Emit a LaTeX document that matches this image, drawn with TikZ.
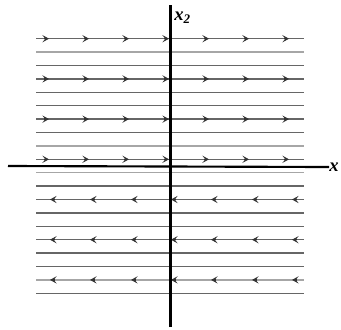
\documentclass[tikz,border=0pt]{standalone}
\usepackage{fontspec}
\setmainfont{Liberation Serif}
\usetikzlibrary{arrows.meta}
\definecolor{FGray}{HTML}{666666}
\definecolor{FLight}{HTML}{A6A6A6}

\begin{document}
\begin{tikzpicture}[x=0.75pt,y=-0.75pt,
  fl/.style={line width=1.1pt,color=FGray},
  flight/.style={line width=1.1pt,color=FLight},
  ax/.style={line width=1.6pt,color=black},
  tip/.style={-{Stealth[length=5pt,width=5.5pt,inset=2.2pt]},line width=1pt,color=black!80},
  lbl/.style={font=\fontsize{14}{14}\selectfont\bfseries\itshape,inner sep=0pt}
]
  \useasboundingbox (0,0) rectangle (341,329);
  % flow lines
  \foreach \y/\s in {38.7/fl,52.1/flight,65.5/fl,78.9/fl,92.3/fl,105.7/fl,
      119.1/fl,132.5/fl,145.9/flight,159.3/fl,172.7/flight,186.1/fl,199.5/fl,
      212.9/fl,226.3/fl,239.7/fl,253.1/fl,266.5/fl,279.9/flight,293.3/fl}
    \draw[\s] (36,\y) -- (304,\y);
  % direction marks
  \foreach \y in {38.7,78.9,119.1,159.3}
    \foreach \x in {49,89,129,169,209,249,289}
      \draw[tip] (\x-5,\y) -- (\x,\y);
  \foreach \y in {199.5,239.7,279.9}
    \foreach \x in {50,90,131,171,211,252,292}
      \draw[tip] (\x+5,\y) -- (\x,\y);
  % axes
  \node[lbl,anchor=west] (xone) at (329,167) {x};
  \node[lbl,anchor=west] (xtwo) at (174,18) {x\textsubscript{2}};
  \coordinate (west) at (8,166);
  \coordinate (south) at (170.5,327);
  \coordinate (north) at (170.5,5);
  \draw[ax] (west) -- (xone.west);
  \draw[ax] (south) -- (north);
\end{tikzpicture}
\end{document}
